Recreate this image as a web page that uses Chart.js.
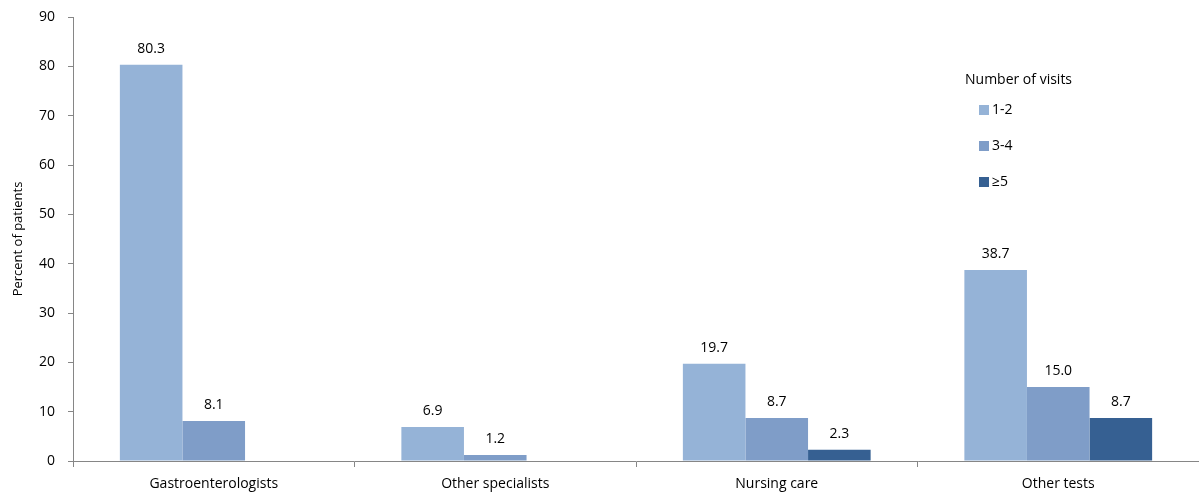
<!DOCTYPE html>
<html lang="en">
    <head>
        <meta charset="UTF-8" />
        <title>Visits</title>
        <script src="https://cdn.jsdelivr.net/npm/chart.js@4.4.0/dist/chart.umd.min.js"></script>
        <style>
            html, body { margin: 0; padding: 0; background: #fff; }
            #wrap { width: 1199px; height: 502px; position: relative; }
        </style>
    </head>
    <body>
        <div id="wrap"><canvas id="canvas"></canvas></div>
        <script>
            var categories = ["Gastroenterologists", "Other specialists", "Nursing care", "Other tests"];
            var visits12 = [80.3, 6.9, 19.7, 38.7];
            var visits34 = [8.1, 1.2, 8.7, 15.0];
            var visits5 = [null, null, 2.3, 8.7];
            var yTicks = [0, 10, 20, 30, 40, 50, 60, 70, 80, 90];
            var legendTitle = "Number of visits";

            var font = "'Open Sans', 'Liberation Sans', sans-serif";
            var axisColor = "#868686";

            // value labels above each bar
            var barLabels = {
                id: "barLabels",
                afterDatasetsDraw: function (chart) {
                    var ctx = chart.ctx;
                    ctx.save();
                    ctx.font = "14px " + font;
                    ctx.fillStyle = "#000";
                    ctx.textAlign = "center";
                    ctx.textBaseline = "bottom";
                    chart.data.datasets.forEach(function (ds, i) {
                        chart.getDatasetMeta(i).data.forEach(function (bar, j) {
                            if (ds.data[j] == null) return;
                            ctx.fillText(ds.data[j].toFixed(1), bar.x, bar.y - 9);
                        });
                    });
                    ctx.restore();
                }
            };

            // legend inside the plot area
            var boxLegend = {
                id: "boxLegend",
                afterDraw: function (chart) {
                    var ctx = chart.ctx;
                    var x = 965, y = 80;
                    ctx.save();
                    ctx.font = "14px " + font;
                    ctx.fillStyle = "#000";
                    ctx.textBaseline = "middle";
                    ctx.fillText(legendTitle, x, y);
                    chart.data.datasets.forEach(function (ds, i) {
                        var yy = y + 30 + i * 36;
                        ctx.fillStyle = ds.backgroundColor;
                        ctx.fillRect(x + 14, yy - 5, 10, 10);
                        ctx.fillStyle = "#000";
                        ctx.fillText(ds.label, x + 27, yy);
                    });
                    ctx.restore();
                }
            };

            var config = {
                type: "bar",
                data: {
                    labels: categories,
                    datasets: [
                        { label: "1-2", data: visits12, backgroundColor: "#95b3d7" },
                        { label: "3-4", data: visits34, backgroundColor: "#7f9dc8" },
                        { label: "\u22655", data: visits5, backgroundColor: "#366092" }
                    ]
                },
                options: {
                    responsive: true,
                    maintainAspectRatio: false,
                    animation: false,
                    layout: { padding: { top: 17, right: 0, left: 0, bottom: 0 } },
                    datasets: {
                        bar: { barPercentage: 1.0, categoryPercentage: 0.667 }
                    },
                    plugins: {
                        legend: { display: false },
                        tooltip: { enabled: false }
                    },
                    scales: {
                        x: {
                            grid: { display: true, drawOnChartArea: false, offset: true, tickLength: 6, color: axisColor },
                            border: { color: axisColor },
                            ticks: { color: "#000", font: { family: font, size: 14 }, padding: 9 },
                            afterFit: function (s) { s.height = 41; s.paddingLeft = 0; s.paddingRight = 0; }
                        },
                        y: {
                            min: 0,
                            max: 90,
                            afterBuildTicks: function (s) {
                                s.ticks = yTicks.map(function (v) { return { value: v }; });
                            },
                            grid: { drawOnChartArea: false, tickLength: 5, color: axisColor },
                            border: { color: axisColor },
                            ticks: { color: "#000", font: { family: font, size: 14 }, padding: 13 },
                            title: { display: true, text: "Percent of patients", color: "#000", font: { family: font, size: 13 }, padding: { top: 10, bottom: 0 } },
                            afterFit: function (s) { s.width = 73; s.paddingTop = 0; s.paddingBottom = 0; }
                        }
                    }
                },
                plugins: [barLabels, boxLegend]
            };

            new Chart(document.getElementById("canvas"), config);
        </script>
    </body>
</html>
